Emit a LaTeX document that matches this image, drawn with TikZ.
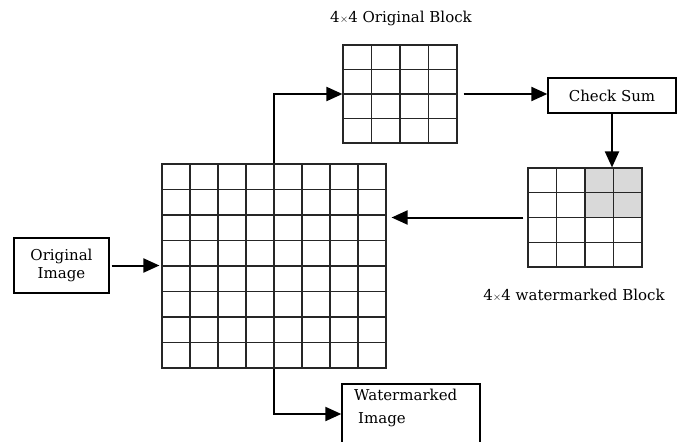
\documentclass[tikz,border=0pt]{standalone}
\usepackage{fontspec}
\setmainfont{DejaVu Serif}
\usetikzlibrary{arrows.meta}
\newcommand{\smalltimes}{{\fontsize{11}{11}\selectfont$\times$}}
\tikzset{
  conn/.style={line width=2pt, -{Triangle[length=16pt,width=14pt]}},
  gridbox/.style={draw=black!85, line width=1.15pt, inner sep=0pt},
  gridline/.style={draw=black!85, line width=1.15pt},
  boxfont/.style={font=\fontsize{15}{17}\selectfont},
  textbox/.style={draw, line width=1.3pt, inner sep=0pt, boxfont, align=center},
  caption/.style={font=\fontsize{15}{17}\selectfont}
}
\begin{document}
\begin{tikzpicture}[x=1pt,y=-1pt]
\useasboundingbox (0,0) rectangle (684,441);

% 8x8 image grid
\node[gridbox, minimum width=224pt, minimum height=204pt] (big) at (274,266) {};
\foreach \i in {1,...,7} {
  \draw[gridline] (162+\i*28,164) -- (162+\i*28,368);
  \draw[gridline] (162,164+\i*25.5) -- (386,164+\i*25.5);
}

% 4x4 original block
\node[gridbox, minimum width=114pt, minimum height=98pt] (orig) at (400,94) {};
\foreach \i in {1,2,3} {
  \draw[gridline] (343+\i*28.5,45) -- (343+\i*28.5,143);
  \draw[gridline] (343,45+\i*24.5) -- (457,45+\i*24.5);
}
\node[caption] (origcap) at (401,18) {4\smalltimes4 Original Block};

% 4x4 watermarked block, top-right 2x2 cells shaded
\fill[black!15] (585.5,168) rectangle (642,217.5);
\node[gridbox, minimum width=114pt, minimum height=99pt] (wm) at (585,217.5) {};
\foreach \i in {1,2,3} {
  \draw[gridline] (528+\i*28.5,168) -- (528+\i*28.5,267);
  \draw[gridline] (528,168+\i*24.75) -- (642,168+\i*24.75);
}
\node[caption] (wmcap) at (574,295) {4\smalltimes4 watermarked Block};

% boxes
\node[textbox, minimum width=128pt, minimum height=35pt] (check) at (612,95.5) {Check Sum};
\node[textbox, minimum width=95pt, minimum height=55pt] (input) at (61.5,265.5) {Original\\[1pt]Image};
\node[textbox, minimum width=138pt, minimum height=60pt] (output) at (411,414) {};
\node[boxfont, align=left, anchor=north west, inner sep=0pt] (outtxt) at (354,389) {Watermarked\\[6pt]\hspace*{4pt}Image};

% connectors
\draw[conn] (big.north) |- (orig.west);
\draw[conn, shorten <=6pt] (orig.east) -- (check.west |- orig.east);
\draw[conn] (check.south) -- (check.south |- wm.north);
\draw[conn, shorten <=4pt, shorten >=5pt] (wm.west) -- (big.east |- wm.west);
\draw[conn, shorten <=2pt, shorten >=2pt] (input.east) -- (big.west |- input.east);
\draw[conn] (big.south) |- (output.west);
\end{tikzpicture}
\end{document}
